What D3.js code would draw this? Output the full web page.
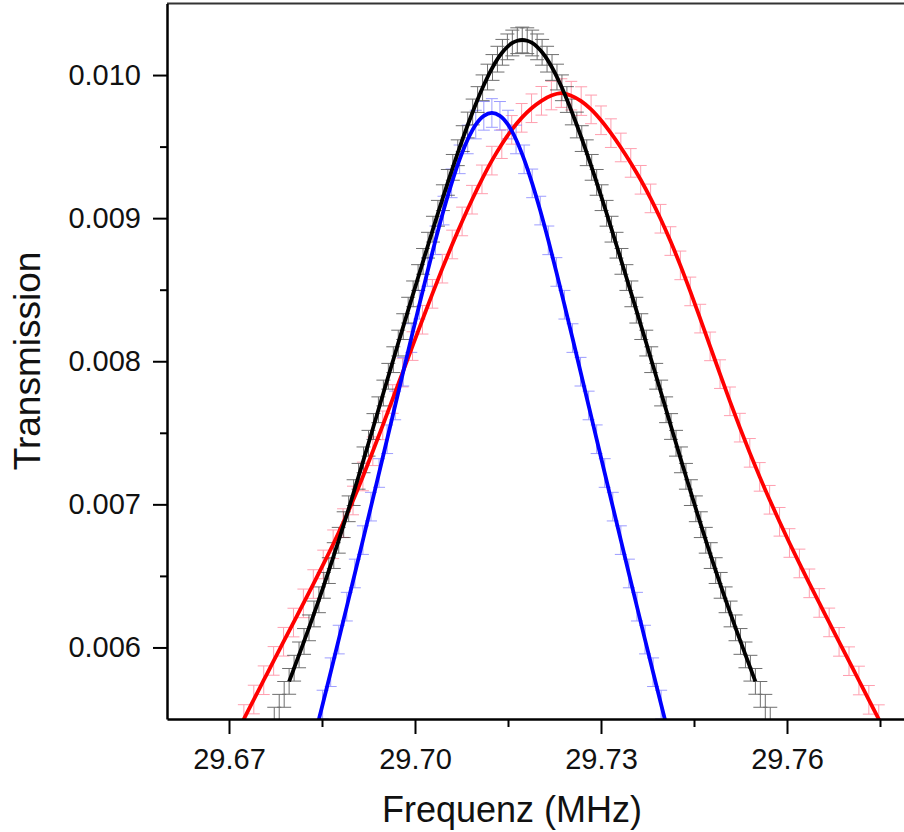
<!DOCTYPE html>
<html>
<head>
<meta charset="utf-8">
<script src="https://cdn.jsdelivr.net/npm/d3@7"></script>
<style>
  body { margin: 0; background: #fff; }
  svg { display: block; font-family: "Liberation Sans", Arial, sans-serif; }
</style>
</head>
<body>
<script>
// Data: Frequenz (MHz) vs Transmission
var blackFreq = [29.6773, 29.6781, 29.6789, 29.6797, 29.6805, 29.6813, 29.6821, 29.6829, 29.6837, 29.6845,
  29.6853, 29.6861, 29.6869, 29.6877, 29.6885, 29.6893, 29.6901, 29.6909, 29.6917, 29.6925,
  29.6933, 29.6941, 29.6949, 29.6957, 29.6965, 29.6973, 29.6981, 29.6989, 29.6997, 29.7005,
  29.7013, 29.7021, 29.7029, 29.7037, 29.7045, 29.7053, 29.7061, 29.7069, 29.7077, 29.7085,
  29.7093, 29.7101, 29.7109, 29.7117, 29.7125, 29.7133, 29.7141, 29.7149, 29.7157, 29.7165,
  29.7173,
  29.7181, 29.7189, 29.7197, 29.7205, 29.7213, 29.7221, 29.7229, 29.7237, 29.7245, 29.7253,
  29.7261, 29.7269, 29.7277, 29.7285, 29.7293, 29.7301, 29.7309, 29.7317, 29.7325, 29.7333,
  29.7341, 29.7349, 29.7357, 29.7365, 29.7373, 29.7381, 29.7389, 29.7397, 29.7405, 29.7413,
  29.7421, 29.7429, 29.7437, 29.7445, 29.7453, 29.7461, 29.7469, 29.7477, 29.7485, 29.7493,
  29.7501, 29.7509, 29.7517, 29.7525, 29.7533, 29.7541, 29.7549, 29.7557, 29.7565, 29.7573];
var blackTrans = [0.005492, 0.005582, 0.005672, 0.005763, 0.005855, 0.005948, 0.006042, 0.006137, 0.006234, 0.006333,
  0.006434, 0.006537, 0.006642, 0.006749, 0.006858, 0.006969, 0.007082, 0.007196, 0.007311, 0.007427,
  0.007544, 0.007661, 0.007778, 0.007895, 0.008011, 0.008127, 0.008242, 0.008357, 0.008471, 0.008585,
  0.008698, 0.008811, 0.008923, 0.009034, 0.009143, 0.009250, 0.009355, 0.009457, 0.009556, 0.009651,
  0.009742, 0.009829, 0.009911, 0.009986, 0.010053, 0.010111, 0.010159, 0.010197, 0.010224, 0.010240,
  0.010245,
  0.010240, 0.010224, 0.010197, 0.010159, 0.010111, 0.010053, 0.009986, 0.009911, 0.009829, 0.009742,
  0.009651, 0.009556, 0.009457, 0.009355, 0.009250, 0.009143, 0.009034, 0.008923, 0.008811, 0.008698,
  0.008585, 0.008471, 0.008357, 0.008242, 0.008127, 0.008011, 0.007895, 0.007778, 0.007661, 0.007544,
  0.007427, 0.007311, 0.007196, 0.007082, 0.006969, 0.006858, 0.006749, 0.006642, 0.006537, 0.006434,
  0.006333, 0.006234, 0.006137, 0.006042, 0.005948, 0.005855, 0.005763, 0.005672, 0.005582, 0.005492];
// the black fit line only covers part of the measured points
var blackFitRange = [29.6797, 29.7549];

var redFreq = [29.6708, 29.6724, 29.6740, 29.6756, 29.6772, 29.6788, 29.6804, 29.6820, 29.6836, 29.6852,
  29.6868, 29.6884, 29.6900, 29.6916, 29.6932, 29.6948, 29.6964, 29.6980, 29.6996, 29.7012,
  29.7028, 29.7044, 29.7060, 29.7076, 29.7092, 29.7108, 29.7124, 29.7140, 29.7156, 29.7172,
  29.7188, 29.7204, 29.7220,
  29.7236,
  29.7252, 29.7268, 29.7284, 29.7300, 29.7316, 29.7332, 29.7348, 29.7364, 29.7380, 29.7396,
  29.7412, 29.7428, 29.7444, 29.7460, 29.7476, 29.7492, 29.7508, 29.7524, 29.7540, 29.7556,
  29.7572, 29.7588, 29.7604, 29.7620, 29.7636, 29.7652, 29.7668, 29.7684, 29.7700, 29.7716,
  29.7732, 29.7748, 29.7764];
var redTrans = [0.005364, 0.005500, 0.005636, 0.005771, 0.005906, 0.006040, 0.006174, 0.006308, 0.006443, 0.006580,
  0.006721, 0.006869, 0.007027, 0.007195, 0.007371, 0.007552, 0.007736, 0.007921, 0.008106, 0.008290,
  0.008471, 0.008647, 0.008816, 0.008977, 0.009129, 0.009271, 0.009402, 0.009517, 0.009617, 0.009701,
  0.009768, 0.009820, 0.009857,
  0.009874,
  0.009856, 0.009818, 0.009760, 0.009684, 0.009594, 0.009494, 0.009386, 0.009268, 0.009138, 0.008996,
  0.008840, 0.008670, 0.008488, 0.008298, 0.008104, 0.007910, 0.007720, 0.007536, 0.007360, 0.007192,
  0.007032, 0.006878, 0.006730, 0.006587, 0.006448, 0.006311, 0.006175, 0.006039, 0.005904, 0.005769,
  0.005634, 0.005499, 0.005364];

var blueFreq = [29.6838, 29.6851, 29.6864, 29.6877, 29.6890, 29.6903, 29.6916, 29.6929, 29.6942, 29.6955,
  29.6968, 29.6981, 29.6994, 29.7007, 29.7020, 29.7033, 29.7046, 29.7059, 29.7072, 29.7085,
  29.7098, 29.7111,
  29.7124,
  29.7137, 29.7150, 29.7163, 29.7176, 29.7189, 29.7202, 29.7215, 29.7228, 29.7241, 29.7254,
  29.7267, 29.7280, 29.7293, 29.7306, 29.7319, 29.7332, 29.7345, 29.7358, 29.7371, 29.7384,
  29.7397, 29.7410];
var blueTrans = [0.005377, 0.005601, 0.005827, 0.006055, 0.006285, 0.006517, 0.006750, 0.006984, 0.007219, 0.007455,
  0.007691, 0.007927, 0.008162, 0.008395, 0.008624, 0.008845, 0.009053, 0.009243, 0.009411, 0.009550,
  0.009654, 0.009715,
  0.009735,
  0.009715, 0.009654, 0.009550, 0.009411, 0.009243, 0.009053, 0.008845, 0.008624, 0.008395, 0.008162,
  0.007927, 0.007691, 0.007455, 0.007219, 0.006984, 0.006750, 0.006517, 0.006285, 0.006055, 0.005827,
  0.005601, 0.005377];

// error bar half heights
var blackErr = 0.00009;
var redErr = 0.0001;
var blueErr = 0.0001;

// tick values and labels
var xTicks = [29.67, 29.70, 29.73, 29.76];
var xTickLabels = ["29.67", "29.70", "29.73", "29.76"];
var xMinorTicks = [29.685, 29.715, 29.745, 29.775];
var yTicks = [0.006, 0.007, 0.008, 0.009, 0.010];
var yTickLabels = ["0.006", "0.007", "0.008", "0.009", "0.010"];
var yMinorTicks = [0.0065, 0.0075, 0.0085, 0.0095];


// Set up the dimensions of the chart area
var width = 904, height = 832;
var box = {left: 167, right: 911, top: 3.5, bottom: 719};

// Set up the scales
var x = d3.scaleLinear().domain([29.66, 29.78]).range([box.left, box.right]);
var y = d3.scaleLinear().domain([0.0055, 0.0105]).range([box.bottom, box.top]);

var svg = d3.select("body").append("svg")
  .attr("width", width)
  .attr("height", height);

svg.append("defs").append("clipPath")
  .attr("id", "plot-clip")
  .append("rect")
  .attr("x", box.left)
  .attr("y", box.top)
  .attr("width", box.right - box.left)
  .attr("height", box.bottom - box.top);

var plot = svg.append("g").attr("clip-path", "url(#plot-clip)");

function toPoints(freq, trans) {
  return freq.map(function(f, i) { return {f: f, t: trans[i]}; });
}

var blackPts = toPoints(blackFreq, blackTrans);
var redPts = toPoints(redFreq, redTrans);
var bluePts = toPoints(blueFreq, blueTrans);

// error bars: vertical stem with caps
function drawErrorBars(points, err, color, capW, opacity) {
  var g = plot.append("g")
    .attr("stroke", color)
    .attr("stroke-width", 1)
    .attr("opacity", opacity);
  var bar = g.selectAll("g").data(points).enter().append("g");
  bar.append("line")
    .attr("x1", function(d) { return x(d.f); })
    .attr("x2", function(d) { return x(d.f); })
    .attr("y1", function(d) { return y(d.t - err); })
    .attr("y2", function(d) { return y(d.t + err); });
  bar.append("line")
    .attr("x1", function(d) { return x(d.f) - capW / 2; })
    .attr("x2", function(d) { return x(d.f) + capW / 2; })
    .attr("y1", function(d) { return y(d.t + err); })
    .attr("y2", function(d) { return y(d.t + err); });
  bar.append("line")
    .attr("x1", function(d) { return x(d.f) - capW / 2; })
    .attr("x2", function(d) { return x(d.f) + capW / 2; })
    .attr("y1", function(d) { return y(d.t - err); })
    .attr("y2", function(d) { return y(d.t - err); });
}

drawErrorBars(redPts, redErr, "#ff7f95", 12, 0.75);
drawErrorBars(bluePts, blueErr, "#7d7dff", 12, 0.75);
drawErrorBars(blackPts, blackErr, "#222", 14, 0.65);

// Define the lines
var valueline = d3.line()
  .x(function(d) { return x(d.f); })
  .y(function(d) { return y(d.t); })
  .curve(d3.curveCatmullRom);

plot.append("path")
  .datum(redPts)
  .attr("d", valueline)
  .attr("fill", "none")
  .attr("stroke", "#ff0000")
  .attr("stroke-width", 3.8);

plot.append("path")
  .datum(bluePts)
  .attr("d", valueline)
  .attr("fill", "none")
  .attr("stroke", "#0000ff")
  .attr("stroke-width", 3.8);

plot.append("path")
  .datum(blackPts.filter(function(d) { return d.f >= blackFitRange[0] - 1e-9 && d.f <= blackFitRange[1] + 1e-9; }))
  .attr("d", valueline)
  .attr("fill", "none")
  .attr("stroke", "#000")
  .attr("stroke-width", 3.8);

// Top frame line
svg.append("line")
  .attr("x1", box.left)
  .attr("x2", box.right)
  .attr("y1", box.top)
  .attr("y2", box.top)
  .attr("stroke", "#333")
  .attr("stroke-width", 2);

// Minor ticks
svg.append("g")
  .attr("transform", "translate(0," + box.bottom + ")")
  .call(d3.axisBottom(x).tickValues(xMinorTicks).tickSize(8).tickFormat(""))
  .call(function(g) { g.select(".domain").remove(); })
  .selectAll("line").attr("stroke-width", 2);

svg.append("g")
  .attr("transform", "translate(" + box.left + ",0)")
  .call(d3.axisLeft(y).tickValues(yMinorTicks).tickSize(7).tickFormat(""))
  .call(function(g) { g.select(".domain").remove(); })
  .selectAll("line").attr("stroke-width", 2);

// Add the X Axis
var xAxisG = svg.append("g")
  .attr("transform", "translate(0," + box.bottom + ")")
  .call(d3.axisBottom(x)
    .tickValues(xTicks)
    .tickSize(15)
    .tickSizeOuter(0)
    .tickPadding(14)
    .tickFormat(function(d) { return xTickLabels[xTicks.indexOf(d)]; }));
xAxisG.select(".domain").attr("stroke-width", 2.5);
xAxisG.selectAll(".tick line").attr("stroke-width", 2);
xAxisG.selectAll("text")
  .attr("font-size", "29px")
  .attr("font-family", "Liberation Sans, Arial, sans-serif")
  .attr("fill", "#111");

// Add the Y Axis
var yAxisG = svg.append("g")
  .attr("transform", "translate(" + box.left + ",0)")
  .call(d3.axisLeft(y)
    .tickValues(yTicks)
    .tickSize(14)
    .tickSizeOuter(0)
    .tickPadding(12)
    .tickFormat(function(d) { return yTickLabels[yTicks.indexOf(d)]; }));
yAxisG.select(".domain").attr("stroke-width", 2.5);
yAxisG.selectAll(".tick line").attr("stroke-width", 2);
yAxisG.selectAll("text")
  .attr("font-size", "29px")
  .attr("font-family", "Liberation Sans, Arial, sans-serif")
  .attr("fill", "#111");

// Axis titles
svg.append("text")
  .attr("x", 512)
  .attr("y", 822)
  .attr("text-anchor", "middle")
  .attr("font-size", "36px")
  .attr("fill", "#111")
  .text("Frequenz (MHz)");

svg.append("text")
  .attr("transform", "translate(40,361) rotate(-90)")
  .attr("text-anchor", "middle")
  .attr("font-size", "37px")
  .attr("fill", "#111")
  .text("Transmission");
</script>
</body>
</html>
